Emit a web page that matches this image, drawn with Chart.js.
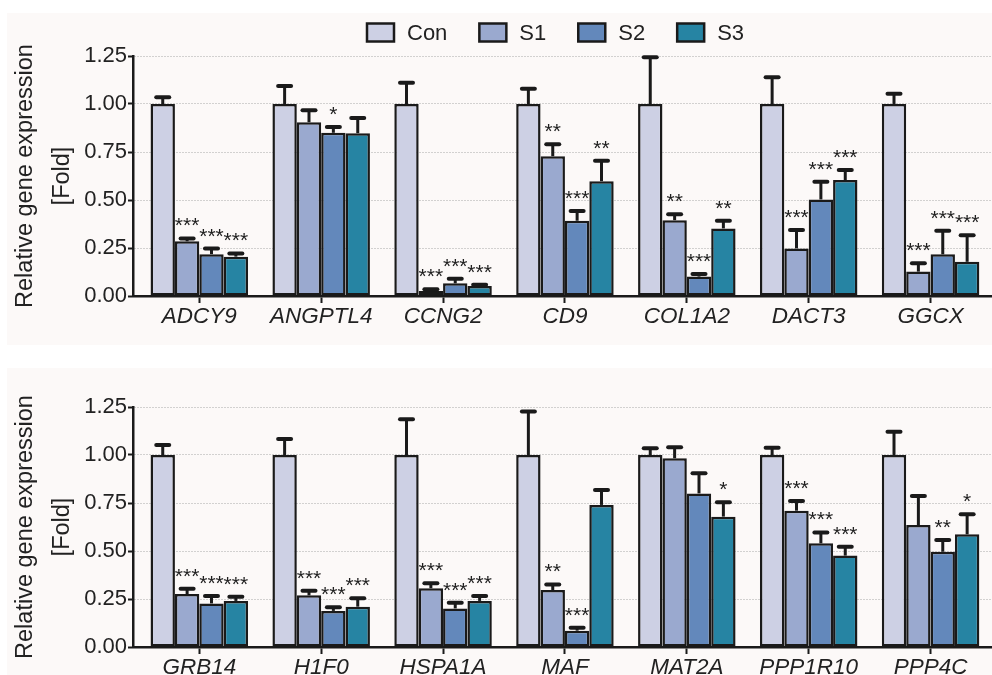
<!DOCTYPE html>
<html><head><meta charset="utf-8">
<script src="https://cdn.jsdelivr.net/npm/chart.js@4"></script>
<style>
body{margin:0;background:#fff;width:992px;height:675px;overflow:hidden;position:relative;}
.panel{position:absolute;left:7px;width:985px;background:#fcf9f8;}
.wrap{position:absolute;left:0;width:992px;}
</style></head><body>
<div class="panel" style="top:13px;height:332px"></div>
<div class="panel" style="top:368px;height:307px"></div>
<div class="wrap" style="top:0;height:345px"><canvas id="c1" width="992" height="345"></canvas></div>
<div class="wrap" style="top:345px;height:330px"><canvas id="c2" width="992" height="330"></canvas></div>
<script>
// ---------- data ----------
const seriesNames = ['Con', 'S1', 'S2', 'S3'];
const seriesColors = ['#cdd0e4', '#9aa9cf', '#6388bb', '#2684a3'];
const yTickLabels = ['0.00', '0.25', '0.50', '0.75', '1.00', '1.25'];
const yTitle = ['Relative gene expression', '[Fold]'];

// top panel
const genesTop = ['ADCY9', 'ANGPTL4', 'CCNG2', 'CD9', 'COL1A2', 'DACT3', 'GGCX'];
const conTop = [1, 1, 1, 1, 1, 1, 1];
const s1Top = [0.285, 0.905, 0.026, 0.728, 0.395, 0.248, 0.127];
const s2Top = [0.218, 0.850, 0.066, 0.392, 0.101, 0.503, 0.217];
const s3Top = [0.205, 0.848, 0.052, 0.598, 0.352, 0.604, 0.178];
const conErrTop = [0.035, 0.094, 0.111, 0.080, 0.243, 0.139, 0.054];
const s1ErrTop = [0.015, 0.063, 0.009, 0.062, 0.031, 0.096, 0.043];
const s2ErrTop = [0.029, 0.030, 0.024, 0.051, 0.014, 0.092, 0.123];
const s3ErrTop = [0.017, 0.079, 0.006, 0.106, 0.040, 0.052, 0.138];
const conSigTop = ['', '', '', '', '', '', ''];
const s1SigTop = ['***', '', '***', '**', '**', '***', '***'];
const s2SigTop = ['***', '*', '***', '***', '***', '***', '***'];
const s3SigTop = ['***', '', '***', '**', '**', '***', '***'];

// bottom panel
const genesBot = ['GRB14', 'H1F0', 'HSPA1A', 'MAF', 'MAT2A', 'PPP1R10', 'PPP4C'];
const conBot = [1, 1, 1, 1, 1, 1, 1];
const s1Bot = [0.276, 0.269, 0.306, 0.297, 0.983, 0.710, 0.635];
const s2Bot = [0.227, 0.188, 0.201, 0.085, 0.800, 0.540, 0.496];
const s3Bot = [0.240, 0.210, 0.240, 0.740, 0.679, 0.476, 0.587];
const conErrBot = [0.052, 0.083, 0.186, 0.226, 0.035, 0.038, 0.121];
const s1ErrBot = [0.028, 0.024, 0.026, 0.029, 0.057, 0.050, 0.151];
const s2ErrBot = [0.039, 0.019, 0.030, 0.015, 0.105, 0.057, 0.061];
const s3ErrBot = [0.022, 0.044, 0.026, 0.078, 0.075, 0.046, 0.104];
const conSigBot = ['', '', '', '', '', '', ''];
const s1SigBot = ['***', '***', '***', '**', '', '***', ''];
const s2SigBot = ['***', '***', '***', '***', '', '***', '**'];
const s3SigBot = ['***', '***', '***', '', '*', '***', '*'];

// ---------- plugins ----------
const FONT = '"Liberation Sans", Arial, sans-serif';
const INK = '#1a1a1a';

const errorBarPlugin = {
  id: 'errbars',
  afterDatasetsDraw(chart) {
    const ctx = chart.ctx, ys = chart.scales.y;
    chart.data.datasets.forEach((ds, i) => {
      const meta = chart.getDatasetMeta(i);
      meta.data.forEach((bar, j) => {
        const v = ds.data[j], e = ds.errors[j];
        const yBar = ys.getPixelForValue(v);
        const yTop = ys.getPixelForValue(v + e);
        ctx.save();
        ctx.strokeStyle = INK;
        ctx.lineWidth = 3;
        ctx.beginPath(); ctx.moveTo(bar.x, yBar); ctx.lineTo(bar.x, yTop); ctx.stroke();
        ctx.lineWidth = 4;
        ctx.lineCap = 'round';
        ctx.beginPath(); ctx.moveTo(bar.x - 6.5, yTop); ctx.lineTo(bar.x + 6.5, yTop); ctx.stroke();
        const s = ds.sig[j];
        if (s) {
          ctx.font = '21px ' + FONT;
          ctx.fillStyle = '#1e1e1e';
          ctx.textAlign = 'center';
          ctx.textBaseline = 'alphabetic';
          ctx.fillText(s, bar.x, yTop - 6);
        }
        ctx.restore();
      });
    });
  }
};

const legendPlugin = {
  id: 'customLegend',
  afterDraw(chart, args, opts) {
    if (!opts || !opts.show) return;
    const ctx = chart.ctx;
    ctx.save();
    ctx.font = '22px ' + FONT;
    let x = opts.x;
    const yMid = opts.y;
    chart.data.datasets.forEach(ds => {
      ctx.fillStyle = ds.backgroundColor;
      ctx.fillRect(x, yMid - 9, 27, 18);
      ctx.strokeStyle = INK; ctx.lineWidth = 2.5;
      ctx.strokeRect(x, yMid - 9, 27, 18);
      ctx.fillStyle = '#222';
      ctx.textBaseline = 'middle'; ctx.textAlign = 'left';
      ctx.fillText(ds.label, x + 40, yMid + 1);
      x += 40 + ctx.measureText(ds.label).width + 32;
    });
    ctx.restore();
  }
};

function makeChart(id, genes, vals, errs, sigs, padTop, xH, showLegend) {
  const datasets = seriesNames.map((name, k) => ({
    label: name,
    data: vals[k],
    errors: errs[k],
    sig: sigs[k],
    backgroundColor: seriesColors[k],
    borderColor: INK,
    borderWidth: 2.5,
    borderSkipped: false,
    categoryPercentage: 0.8,
    barPercentage: 1.0
  }));
  return new Chart(document.getElementById(id), {
    type: 'bar',
    data: { labels: genes, datasets },
    plugins: [errorBarPlugin, legendPlugin],
    options: {
      responsive: false,
      animation: false,
      devicePixelRatio: 1,
      layout: { padding: { top: padTop, left: 0, right: 0, bottom: 0 } },
      plugins: {
        legend: { display: false },
        tooltip: { enabled: false },
        customLegend: { show: showLegend, x: 367, y: 32.5 }
      },
      scales: {
        x: {
          type: 'category',
          offset: true,
          grid: { display: true, drawOnChartArea: false, drawTicks: true, tickLength: 7,
                  tickWidth: 2, tickColor: INK, offset: false },
          border: { display: true, color: INK, width: 2.5 },
          ticks: { color: '#222', font: { family: FONT, size: 22.5, style: 'italic' },
                   padding: 0, maxRotation: 0, autoSkip: false },
          afterBuildTicks: (s) => {
            if (typeof s._startValue === 'number') {
              s._startValue = -0.544;
              s._valueRange = genes.length + 0.048;
            }
          },
          afterFit: (s) => { s.height = xH; }
        },
        y: {
          min: 0, max: 1.25,
          ticks: { stepSize: 0.25, color: '#222', font: { family: FONT, size: 22 }, padding: 1,
                   callback: (v, i) => yTickLabels[i] },
          grid: {
            color: (c) => (c.tick && c.tick.value === 0) ? 'rgba(0,0,0,0)' : '#a8a8a8',
            lineWidth: 1, tickLength: 5, tickWidth: 2, tickColor: INK
          },
          border: { display: true, color: INK, width: 2.5, dash: [1, 2] },
          title: { display: true, text: yTitle, color: '#222',
                   font: { family: FONT, size: 23.5, lineHeight: 1.574 },
                   padding: { top: 7.5, bottom: 0 } },
          afterFit: (s) => { s.width = 133; }
        }
      }
    }
  });
}

makeChart('c1', genesTop,
  [conTop, s1Top, s2Top, s3Top],
  [conErrTop, s1ErrTop, s2ErrTop, s3ErrTop],
  [conSigTop, s1SigTop, s2SigTop, s3SigTop],
  56, 49, true);

makeChart('c2', genesBot,
  [conBot, s1Bot, s2Bot, s3Bot],
  [conErrBot, s1ErrBot, s2ErrBot, s3ErrBot],
  [conSigBot, s1SigBot, s2SigBot, s3SigBot],
  62, 28, false);
</script>
</body></html>
